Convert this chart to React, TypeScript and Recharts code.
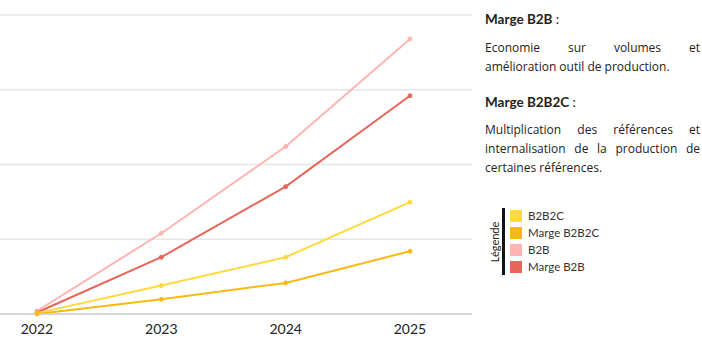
import React from "react";
import { CartesianGrid, Line, LineChart, XAxis, YAxis } from "recharts";

const years = ["2022", "2023", "2024", "2025"];
const b2b = [1, 27, 56, 92];
const margeB2b = [0.5, 19, 42.6, 73];
const b2b2c = [0.3, 9.5, 19, 37.4];
const margeB2b2c = [0, 4.9, 10.4, 21];
const yTicks = [0, 25, 50, 75, 100];

const SERIES = [
  { key: "b2b2c", name: "B2B2C", color: "#FFD93D", values: b2b2c },
  { key: "margeB2b2c", name: "Marge B2B2C", color: "#FBB812", values: margeB2b2c },
  { key: "b2b", name: "B2B", color: "#FFB4B1", values: b2b },
  { key: "margeB2b", name: "Marge B2B", color: "#E8655A", values: margeB2b },
];

// draw order: pink under red, then yellow, orange on top
const DRAW_ORDER = ["b2b", "margeB2b", "b2b2c", "margeB2b2c"];

const data = years.map((year, i) => {
  const row: Record<string, string | number> = { year };
  SERIES.forEach(s => { row[s.key] = s.values[i]; });
  return row;
});

const FONT = "Lato, 'Open Sans', sans-serif";
const TEXT_FONT = "'Open Sans', Lato, sans-serif";

const App: React.FC = () => {
  return (
    <div style={{ position: "absolute", left: 0, top: 0, width: 702, height: 352, fontFamily: FONT, color: "#222" }}>
      <div style={{ position: "absolute", left: 0, top: 0 }}>
        <LineChart width={480} height={352} data={data} margin={{ top: 15, right: 8, left: 0, bottom: 8 }}>
          <CartesianGrid vertical={false} stroke="#e6e6e6" strokeWidth={1.5} />
          <XAxis
            dataKey="year"
            height={30}
            padding={{ left: 37, right: 62 }}
            tickLine={false}
            tickSize={0}
            tickMargin={10}
            axisLine={{ stroke: "#cfcfcf", strokeWidth: 1.5 }}
            tick={{ fill: "#222", fontSize: 14, fontFamily: FONT }}
          />
          <YAxis hide domain={[0, 100]} ticks={yTicks} width={0} />
          {DRAW_ORDER.map(k => {
            const s = SERIES.find(x => x.key === k)!;
            return (
              <Line
                key={s.key}
                dataKey={s.key}
                name={s.name}
                stroke={s.color}
                strokeWidth={2}
                dot={{ r: 2, fill: s.color, stroke: s.color, strokeWidth: 1 }}
                isAnimationActive={false}
              />
            );
          })}
        </LineChart>
      </div>

      <div style={{ position: "absolute", left: 485, top: 10, width: 215, fontSize: 12, lineHeight: "19px" }}>
        <div style={{ fontWeight: 700, fontSize: 13.5, marginBottom: 9 }}>
          Marge B2B <span style={{ fontWeight: 400 }}>:</span>
        </div>
        <div style={{ fontFamily: TEXT_FONT }}>
          <div style={{ textAlign: "justify", textAlignLast: "justify" }}>Economie sur volumes et</div>
          <div>amélioration outil de production.</div>
        </div>
        <div style={{ fontWeight: 700, fontSize: 13.5, marginTop: 17, marginBottom: 8 }}>
          Marge B2B2C <span style={{ fontWeight: 400 }}>:</span>
        </div>
        <div style={{ textAlign: "justify", fontFamily: TEXT_FONT }}>
          Multiplication des références et internalisation de la production de certaines références.
        </div>
      </div>

      <div style={{ position: "absolute", left: 486, top: 208, height: 68, width: 16 }}>
        <div
          style={{
            position: "absolute",
            left: 8,
            top: 34,
            transform: "translate(-50%, -50%) rotate(-90deg)",
            fontSize: 11,
            whiteSpace: "nowrap",
          }}
        >
          Légende
        </div>
      </div>
      <div style={{ position: "absolute", left: 502, top: 208, width: 3, height: 67, background: "#111" }} />
      <div style={{ position: "absolute", left: 510, top: 207, fontSize: 11.5 }}>
        {SERIES.map(s => (
          <div key={s.key} style={{ display: "flex", alignItems: "center", height: 17 }}>
            <span style={{ display: "inline-block", width: 12, height: 12, background: s.color, marginRight: 6 }} />
            <span style={{ color: "#333" }}>{s.name}</span>
          </div>
        ))}
      </div>
    </div>
  );
};

export default App;
